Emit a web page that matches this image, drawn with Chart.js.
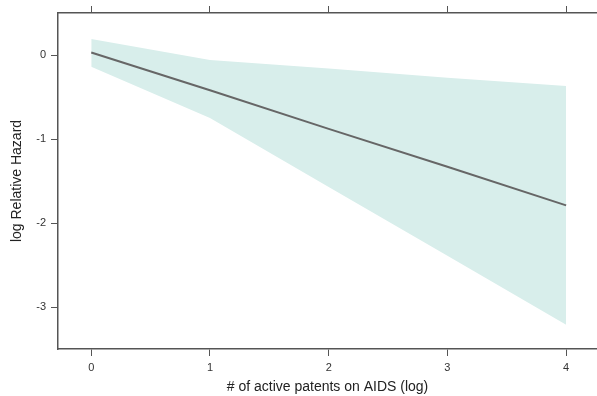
<!DOCTYPE html>
<html>
<head>
<meta charset="utf-8">
<script src="https://cdn.jsdelivr.net/npm/chart.js@4/dist/chart.umd.min.js"></script>
<style>
  html, body { margin: 0; padding: 0; background: #fff; overflow: hidden; }
  #wrap { width: 597px; height: 396px; }
</style>
</head>
<body>
<div id="wrap"><canvas id="hazardChart"></canvas></div>
<script>
// log(# active patents) at each evaluated point
const xVals = [0, 1, 2, 3, 4];
// fitted log relative hazard and its confidence band
const fit = [0.03, -0.42, -0.88, -1.33, -1.79];
const upper = [0.19, -0.06, -0.16, -0.27, -0.37];
const lower = [-0.14, -0.75, -1.57, -2.39, -3.21];
const xTicks = [0, 1, 2, 3, 4];
const yTicks = [-3, -2, -1, 0];

const pts = arr => xVals.map((x, i) => ({ x, y: arr[i] }));

const axisColor = "#555";
const font = { family: "'Liberation Sans', Arial, sans-serif", size: 11 };
const titleFont = { family: "'Liberation Sans', Arial, sans-serif", size: 14 };

const fixTicks = vals => scale => {
  scale.ticks = vals.map(v => ({ value: v }));
};

new Chart(document.getElementById("hazardChart"), {
  type: "line",
  data: {
    datasets: [
      {
        label: "upper",
        data: pts(upper),
        borderWidth: 0,
        borderColor: "rgba(0,0,0,0)",
        pointRadius: 0,
        backgroundColor: "#d8eeeb",
        fill: "+1",
        order: 2
      },
      {
        label: "lower",
        data: pts(lower),
        borderWidth: 0,
        borderColor: "rgba(0,0,0,0)",
        pointRadius: 0,
        fill: false,
        order: 2
      },
      {
        label: "fit",
        data: pts(fit),
        borderColor: "#666",
        borderWidth: 2,
        pointRadius: 0,
        fill: false,
        order: 0
      }
    ]
  },
  options: {
    responsive: true,
    maintainAspectRatio: false,
    animation: false,
    layout: { padding: 0 },
    plugins: { legend: { display: false }, tooltip: { enabled: false } },
    scales: {
      x: {
        type: "linear",
        position: "bottom",
        min: -0.28,
        max: 4.26,
        afterBuildTicks: fixTicks(xTicks),
        afterFit: s => { s.height = 47; },
        grid: { drawOnChartArea: false, tickLength: 7, tickColor: axisColor },
        border: { color: axisColor, width: 1.5 },
        ticks: { font, color: "#333", padding: 5, maxRotation: 0 },
        title: {
          display: true,
          text: "# of active patents on AIDS (log)",
          font: titleFont,
          color: "#222",
          padding: 0
        }
      },
      xTop: {
        type: "linear",
        position: "top",
        min: -0.28,
        max: 4.26,
        afterBuildTicks: fixTicks(xTicks),
        afterFit: s => { s.height = 13; },
        grid: { drawOnChartArea: false, tickLength: 7, tickColor: axisColor },
        border: { color: axisColor, width: 1.5 },
        ticks: { display: false }
      },
      y: {
        min: -3.5,
        max: 0.5,
        afterBuildTicks: fixTicks(yTicks),
        afterFit: s => { s.width = 58; },
        grid: { drawOnChartArea: false, tickLength: 7, tickColor: axisColor },
        border: { color: axisColor, width: 1.5 },
        ticks: { font, color: "#333", padding: 5 },
        title: {
          display: true,
          text: "log Relative Hazard",
          font: titleFont,
          color: "#222",
          padding: { top: 9, bottom: 0 }
        }
      }
    }
  }
});
</script>
</body>
</html>
